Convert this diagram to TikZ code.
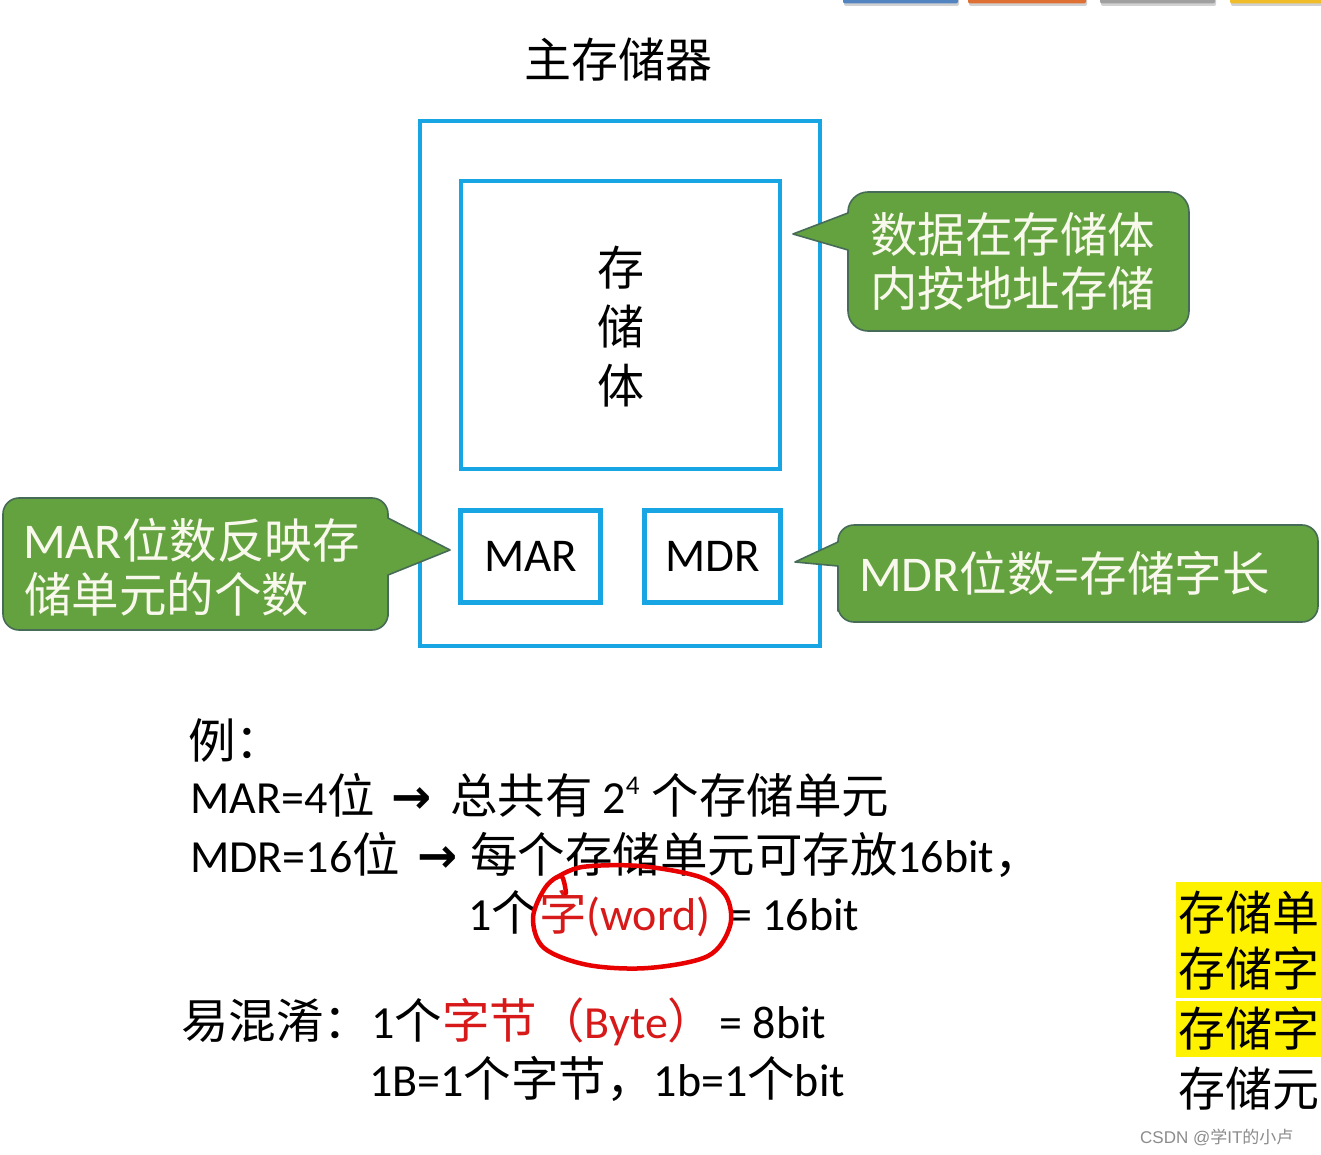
\documentclass[tikz,border=0pt]{standalone}
\usepackage{fontspec}
\setmainfont{Carlito}
\newfontfamily\cjk{Noto Sans CJK SC}
\newfontfamily\dejavu{DejaVu Sans}
\newfontfamily\wmfont{Liberation Sans}
\newcommand\zhsize{46}
\newcommand\zh[1]{{\cjk\fontsize{\zhsize}{\zhsize}\selectfont #1}}
\newcommand\arr{{\dejavu\bfseries\fontsize{48}{48}\selectfont →}}
\definecolor{mblue}{RGB}{24,165,228}
\definecolor{cgreen}{RGB}{100,162,64}
\definecolor{cborder}{RGB}{70,108,88}
\definecolor{cwhite}{RGB}{248,248,236}
\definecolor{wred}{RGB}{215,25,25}
\definecolor{ered}{RGB}{232,0,0}
\definecolor{tblue}{RGB}{82,132,192}
\definecolor{torange}{RGB}{222,112,52}
\definecolor{tgray}{RGB}{160,160,160}
\definecolor{tyellow}{RGB}{240,188,40}
\begin{document}
\begin{tikzpicture}[x=1pt,y=-1pt,
  box/.style={draw=mblue, line width=4.5pt, inner sep=0, fill=none},
  lbl/.style={inner sep=0, anchor=base west},
  callout/.style={fill=cgreen, draw=cborder, line width=1.6pt, line join=round},
  ctext/.style={lbl, text=cwhite, font={\fontsize{50}{50}\selectfont\renewcommand\zhsize{47.5}}},
  body/.style={lbl, font={\fontsize{46}{50}\selectfont\renewcommand\zhsize{47.5}}},
  zhbig/.style={inner sep=0, anchor=base, font={\cjk\fontsize{47}{47}\selectfont}},
  tab/.style={rounded corners=2pt}
]
\useasboundingbox (0,0) rectangle (1321,1155);
\fill[white] (0,0) rectangle (1321,1155);

% top tabs
\foreach \a/\b/\c in {843/958/tblue, 968/1086/torange, 1100/1215/tgray, 1230/1330/tyellow}{
  \fill[black!18, tab] (\a+1,-4) rectangle (\b+1,6);
  \fill[\c, tab] (\a,-6) rectangle (\b,3.5);
}

% title
\node[zhbig] (title) at (618,78) {主存储器};

% boxes
\node[box, minimum width=400pt, minimum height=525pt] (outer) at (620,383.5) {};
\node[box, minimum width=319pt, minimum height=288pt] (body) at (620.5,325) {};
\node[box, minimum width=140pt, minimum height=92pt, font=\fontsize{47}{47}\selectfont] (mar) at (530.5,556.5) {MAR};
\node[box, minimum width=136pt, minimum height=92pt, font=\fontsize{47}{47}\selectfont] (mdr) at (712.5,556.5) {MDR};

\node[zhbig] (s1) at (621,286) {存};
\node[zhbig] (s2) at (621,344) {储};
\node[zhbig] (s3) at (621,403) {体};

% callouts
\draw[callout] (848,290) -- (848,250) -- (793,234) -- (848,213) [rounded corners=20pt] -- (848,192) -- (1189,192) -- (1189,331) -- (848,331) -- cycle;
\draw[callout] (388,600) -- (388,575) -- (450,550) -- (388,518) [rounded corners=16pt] -- (388,498) -- (3,498) -- (3,630) -- (388,630) -- cycle;
\draw[callout] (838,595) -- (838,566) -- (795,562) -- (838,542) [rounded corners=16pt] -- (838,525) -- (1318,525) -- (1318,622) -- (838,622) -- cycle;

\node[ctext] (c1a) at (870,253) {\zh{数据在存储体}};
\node[ctext] (c1b) at (870,306) {\zh{内按地址存储}};
\node[ctext] (c2a) at (23,558) {MAR\zh{位数反映存}};
\node[ctext] (c2b) at (24,612) {\zh{储单元的个数}};
\node[ctext] (c3) at (859,591) {MDR\zh{位数}=\zh{存储字长}};

% example text
\node[body] (ex0) at (188,758) {\zh{例：}};
\node[body] (ex1) at (190,813) {MAR=4\zh{位}\hspace{17pt}\arr\hspace{18pt}\zh{总共有}\hspace{10pt}2\raisebox{19pt}{\fontsize{27}{27}\selectfont 4}\hspace{12pt}\zh{个存储单元}};
\node[body] (ex2) at (190,872) {MDR=16\zh{位}\hspace{18pt}\arr\hspace{12pt}\zh{每个存储单元可存放}16bit\zh{，}};
\node[body] (ex3) at (468,930) {1\zh{个}\textcolor{wred}{\zh{字}(word)}\hspace{8pt} = 16bit};
\node[body] (ex4) at (181,1038) {\zh{易混淆：}1\zh{个}\textcolor{wred}{\zh{字节（}Byte\zh{）}}\hspace{4pt}= 8bit};
\node[body] (ex5) at (369,1096) {1B=1\zh{个字节，}1b=1\zh{个}bit};

% red hand-drawn ellipse
\draw[ered, line width=4.5pt, line cap=round, line join=round]
  plot[smooth, tension=0.55] coordinates {(566,893) (561,876) (545,888) (533,918) (544,948) (588,965) (648,968) (708,956) (730,926) (726,896) (700,877) (640,866) (582,867) (556,878)};

% right side highlights
\fill[yellow] (1176,882) rectangle (1321,998);
\fill[yellow] (1176,1001) rectangle (1321,1057);
\node[zhbig, anchor=base west] (r1) at (1178,930) {存储单};
\node[zhbig, anchor=base west] (r2) at (1178,986) {存储字};
\node[zhbig, anchor=base west] (r3) at (1178,1046) {存储字};
\node[zhbig, anchor=base west] (r4) at (1178,1106) {存储元};

% watermark
\node[lbl, text=black!45, font=\wmfont\fontsize{17}{17}\selectfont] (wm) at (1140,1143) {CSDN @{\cjk 学}IT{\cjk 的小卢}};
\end{tikzpicture}
\end{document}
